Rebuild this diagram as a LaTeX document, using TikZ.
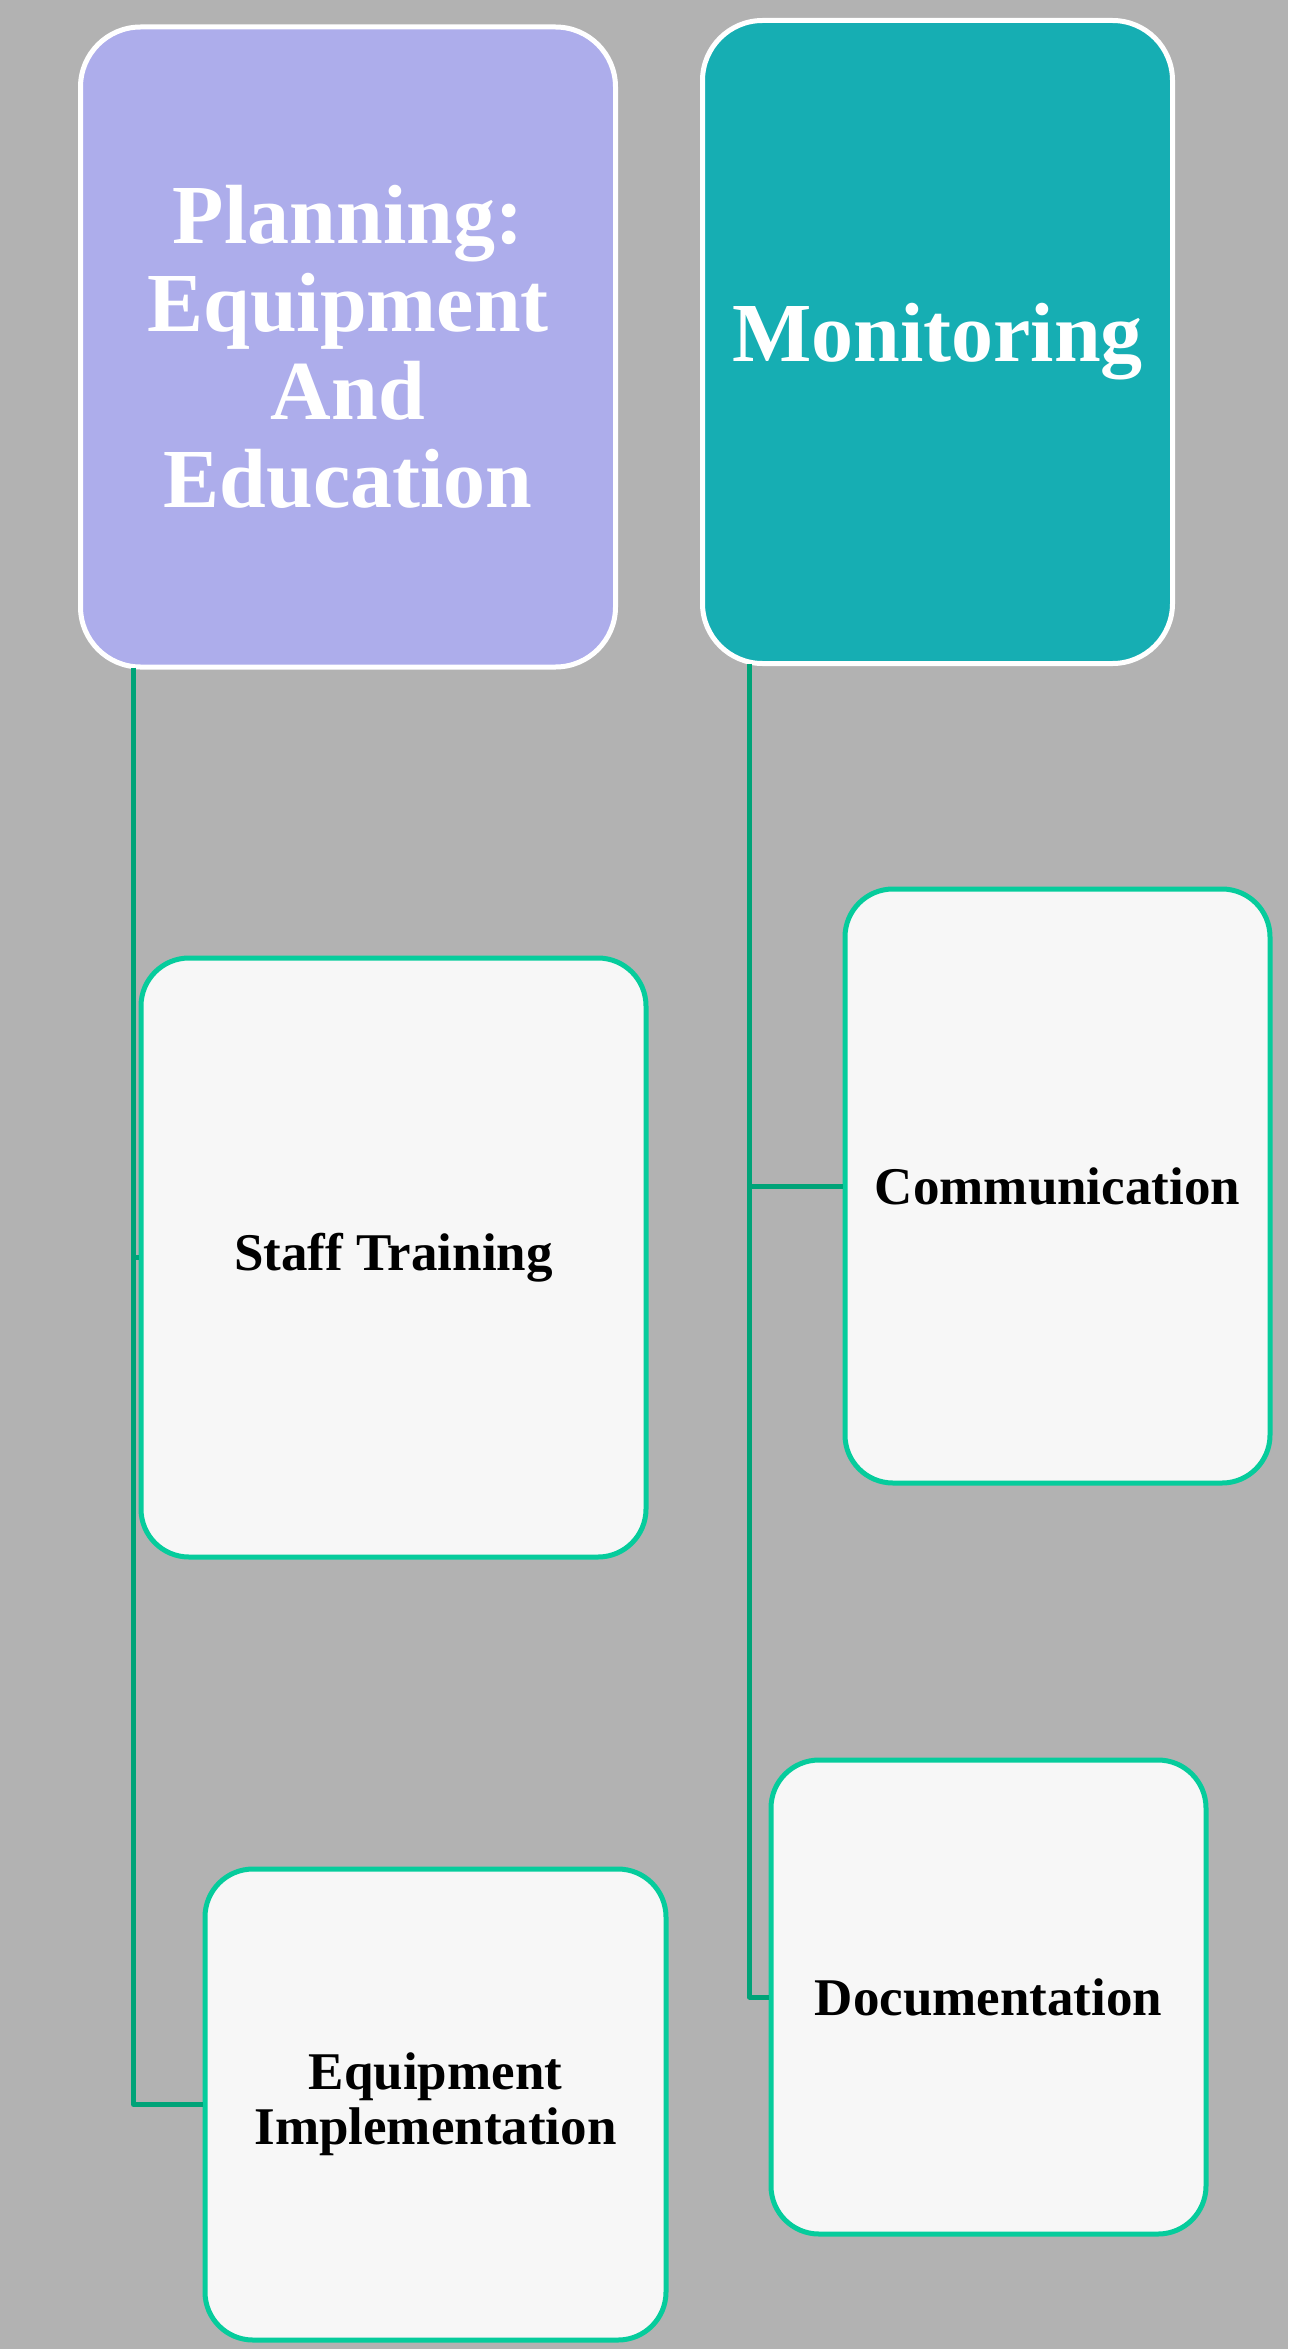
\documentclass[tikz,border=0pt]{standalone}
\usepackage{fontspec}
\setmainfont{Liberation Serif}
\definecolor{bggray}{RGB}{178,178,178}
\definecolor{lavender}{RGB}{173,173,235}
\definecolor{tealbox}{RGB}{22,174,179}
\definecolor{cardfill}{RGB}{247,247,247}
\definecolor{cardedge}{RGB}{6,204,156}
\definecolor{linkgreen}{RGB}{0,163,120}
\begin{document}
\begin{tikzpicture}[x=1pt,y=-1pt,
  headbox/.style={draw=white,line width=5pt,rounded corners=60pt,text=white,
    align=center,font=\fontsize{84}{88}\selectfont\bfseries,inner sep=0pt},
  card/.style={draw=cardedge,fill=cardfill,line width=5pt,rounded corners=48pt,
    align=center,font=\fontsize{53}{55}\selectfont\bfseries,inner sep=0pt},
  link/.style={draw=linkgreen,line width=5pt,line join=round}]
\fill[bggray] (0,0) rectangle (1288,2349);
\useasboundingbox (0,0) rectangle (1288,2349);

\node[headbox,fill=lavender,minimum width=535pt,minimum height=640pt] (plan) at (348,347)
  {Planning:\\Equipment\\And\\Education};
\node[headbox,fill=tealbox,minimum width=470pt,minimum height=643pt] (moni) at (937.5,342)
  {Monitoring};

\node[card,minimum width=505pt,minimum height=599pt] (staff) at (393.5,1257.5) {Staff Training};
\node[card,minimum width=461pt,minimum height=471pt] (equip) at (435.5,2104.5) {Equipment\\Implementation};
\node[card,minimum width=425pt,minimum height=594pt] (comm) at (1057.5,1186) {Communication};
\node[card,minimum width=435pt,minimum height=474pt] (docu) at (988.5,1997) {Documentation};

\coordinate (ltop) at (133.5,667.5);
\coordinate (rtop) at (749.5,663.5);

\draw[link] (ltop) |- (equip.west);
\draw[link] (ltop |- staff.west) -- (staff.west);
\draw[link] (rtop) |- (docu.west);
\draw[link] (rtop |- comm.west) -- (comm.west);
\end{tikzpicture}
\end{document}
